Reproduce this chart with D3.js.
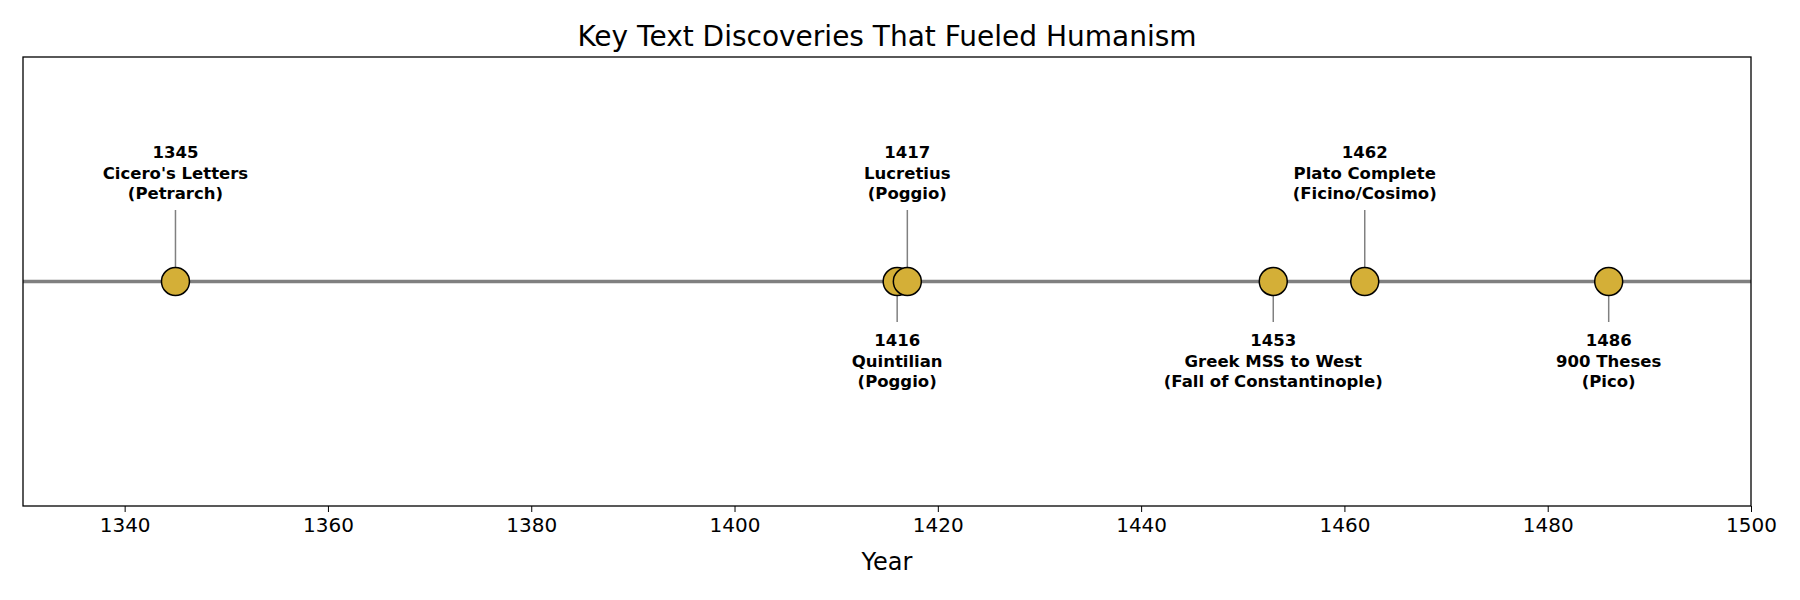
<!DOCTYPE html>
<html>
<head>
<meta charset="utf-8">
<script src="https://cdn.jsdelivr.net/npm/d3@7"></script>
<style>
  body { margin: 0; background: #fff; }
  text { font-family: "DejaVu Sans", sans-serif; }
</style>
</head>
<body>
<svg id="chart" width="1800" height="600"></svg>
<script>
// event data
var years = [1345, 1416, 1417, 1453, 1462, 1486];
var titles = ["Cicero's Letters", "Quintilian", "Lucretius", "Greek MSS to West", "Plato Complete", "900 Theses"];
var notes = ["(Petrarch)", "(Poggio)", "(Poggio)", "(Fall of Constantinople)", "(Ficino/Cosimo)", "(Pico)"];
var sides = [1, -1, 1, -1, 1, -1]; // 1 = label above, -1 = below
var xTicks = [1340, 1360, 1380, 1400, 1420, 1440, 1460, 1480, 1500];

var svg = d3.select("#chart");
var m = { l: 23, r: 49, t: 57, b: 94 };
var W = 1800, H = 600;

var x = d3.scaleLinear().domain([1330, 1500]).range([m.l, W - m.r]);
var y = d3.scaleLinear().domain([-1, 1]).range([H - m.b, m.t]);

// title
svg.append("text").attr("x", (m.l + W - m.r) / 2).attr("y", 46)
    .attr("text-anchor", "middle").attr("font-size", 28).text("Key Text Discoveries That Fueled Humanism");

// baseline
svg.append("line").attr("x1", m.l).attr("x2", W - m.r)
    .attr("y1", y(0)).attr("y2", y(0))
    .attr("stroke", "#808080").attr("stroke-width", 3.5);

var ev = years.map((yr, i) => ({ yr: yr, t: titles[i], n: notes[i], s: sides[i] }));

// stems
svg.selectAll(".stem").data(ev).enter().append("line")
    .attr("x1", d => x(d.yr)).attr("x2", d => x(d.yr))
    .attr("y1", y(0)).attr("y2", d => d.s > 0 ? 210 : 322)
    .attr("stroke", "#808080").attr("stroke-width", 1.5);

// dots
svg.selectAll(".dot").data(ev).enter().append("circle")
    .attr("cx", d => x(d.yr)).attr("cy", y(0)).attr("r", 14)
    .attr("fill", "#D4AF37").attr("stroke", "#000").attr("stroke-width", 1.5);

// labels
ev.forEach(d => {
    var y0 = d.s > 0 ? 158 : 346;
    var t = svg.append("text").attr("text-anchor", "middle").attr("font-size", 16.5)
        .attr("font-weight", "bold");
    [String(d.yr), d.t, d.n].forEach((s, k) => {
        t.append("tspan").attr("x", x(d.yr)).attr("y", y0 + k * 20.5).text(s);
    });
});

// frame
svg.append("rect").attr("x", m.l).attr("y", m.t)
    .attr("width", W - m.l - m.r).attr("height", H - m.t - m.b)
    .attr("fill", "none").attr("stroke", "#000").attr("stroke-width", 1.3);

// x axis
var ax = svg.append("g").attr("transform", `translate(0,${H - m.b})`)
    .call(d3.axisBottom(x).tickValues(xTicks).tickFormat(d3.format("d")).tickSize(6).tickPadding(6));
ax.select(".domain").remove();
ax.selectAll("text").attr("font-size", 20).attr("fill", "#000").style("font-family", "DejaVu Sans");

svg.append("text").attr("x", (m.l + W - m.r) / 2).attr("y", 570)
    .attr("text-anchor", "middle").attr("font-size", 24).text("Year");
</script>
</body>
</html>
